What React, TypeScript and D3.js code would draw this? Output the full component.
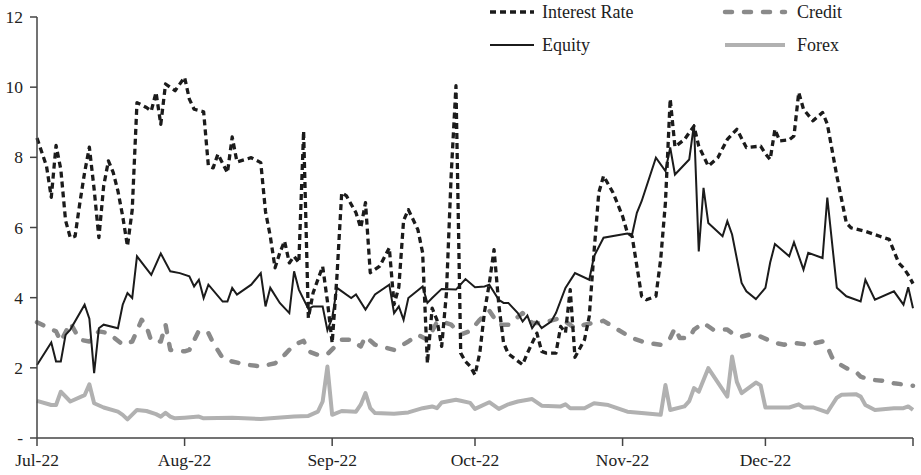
import * as d3 from "d3";

// Daily series (date, value)
const interestRate: [string, number][] = [
  ["2022-07-01", 8.55], ["2022-07-03", 7.75], ["2022-07-04", 6.86], ["2022-07-05", 8.34],
  ["2022-07-06", 7.66], ["2022-07-07", 6.2], ["2022-07-08", 5.71], ["2022-07-09", 5.75],
  ["2022-07-10", 6.7], ["2022-07-11", 7.57], ["2022-07-12", 8.29], ["2022-07-13", 7.09],
  ["2022-07-14", 5.71], ["2022-07-15", 7.18], ["2022-07-16", 7.9], ["2022-07-17", 7.57],
  ["2022-07-18", 7.04], ["2022-07-19", 6.32], ["2022-07-20", 5.47], ["2022-07-21", 6.5],
  ["2022-07-22", 9.56], ["2022-07-24", 9.42], ["2022-07-25", 9.32], ["2022-07-26", 9.85],
  ["2022-07-27", 8.94], ["2022-07-28", 10.09], ["2022-07-30", 9.9], ["2022-08-01", 10.28],
  ["2022-08-02", 9.66], ["2022-08-03", 9.37], ["2022-08-05", 9.3], ["2022-08-06", 7.75],
  ["2022-08-07", 7.7], ["2022-08-08", 8.09], ["2022-08-10", 7.56], ["2022-08-11", 8.58],
  ["2022-08-12", 7.87], ["2022-08-15", 7.99], ["2022-08-17", 7.85], ["2022-08-18", 6.45],
  ["2022-08-19", 5.75], ["2022-08-20", 4.85], ["2022-08-21", 5.28], ["2022-08-22", 5.61],
  ["2022-08-23", 4.99], ["2022-08-24", 5.18], ["2022-08-25", 5.0], ["2022-08-26", 8.75],
  ["2022-08-27", 3.42], ["2022-08-28", 4.14], ["2022-08-30", 4.89], ["2022-08-31", 3.9],
  ["2022-09-01", 2.71], ["2022-09-02", 4.6], ["2022-09-03", 6.99], ["2022-09-04", 6.9],
  ["2022-09-06", 6.42], ["2022-09-07", 5.99], ["2022-09-08", 6.71], ["2022-09-09", 4.71],
  ["2022-09-11", 4.9], ["2022-09-13", 5.42], ["2022-09-14", 3.8], ["2022-09-15", 4.3],
  ["2022-09-16", 6.2], ["2022-09-17", 6.51], ["2022-09-19", 5.94], ["2022-09-20", 5.28],
  ["2022-09-21", 2.13], ["2022-09-22", 3.7], ["2022-09-23", 3.37], ["2022-09-24", 2.61],
  ["2022-09-25", 4.13], ["2022-09-26", 7.5], ["2022-09-27", 10.04], ["2022-09-28", 2.42],
  ["2022-09-29", 2.18], ["2022-09-30", 2.04], ["2022-10-01", 1.8], ["2022-10-02", 2.42],
  ["2022-10-03", 3.6], ["2022-10-04", 4.4], ["2022-10-05", 5.37], ["2022-10-06", 3.8],
  ["2022-10-07", 2.71], ["2022-10-08", 2.4], ["2022-10-11", 2.09], ["2022-10-12", 2.42],
  ["2022-10-14", 2.99], ["2022-10-15", 2.47], ["2022-10-16", 2.42], ["2022-10-18", 2.42],
  ["2022-10-19", 3.18], ["2022-10-20", 3.0], ["2022-10-21", 4.23], ["2022-10-22", 2.3],
  ["2022-10-24", 2.8], ["2022-10-25", 3.47], ["2022-10-26", 5.3], ["2022-10-27", 6.99],
  ["2022-10-28", 7.47], ["2022-10-30", 6.99], ["2022-11-01", 6.32], ["2022-11-02", 5.85],
  ["2022-11-03", 5.75], ["2022-11-04", 4.9], ["2022-11-05", 4.04], ["2022-11-06", 3.94],
  ["2022-11-08", 4.04], ["2022-11-09", 5.09], ["2022-11-10", 6.71], ["2022-11-11", 9.66],
  ["2022-11-12", 8.3], ["2022-11-14", 8.51], ["2022-11-16", 8.89], ["2022-11-17", 8.32],
  ["2022-11-19", 7.75], ["2022-11-21", 7.99], ["2022-11-23", 8.51], ["2022-11-25", 8.8],
  ["2022-11-27", 8.28], ["2022-11-30", 8.32], ["2022-12-01", 8.1], ["2022-12-02", 7.94],
  ["2022-12-03", 8.8], ["2022-12-04", 8.47], ["2022-12-06", 8.5], ["2022-12-07", 8.61],
  ["2022-12-08", 9.85], ["2022-12-09", 9.37], ["2022-12-11", 9.04], ["2022-12-13", 9.28],
  ["2022-12-14", 8.95], ["2022-12-16", 7.47], ["2022-12-17", 6.8], ["2022-12-18", 6.13],
  ["2022-12-19", 5.99], ["2022-12-22", 5.89], ["2022-12-25", 5.75], ["2022-12-27", 5.66],
  ["2022-12-29", 4.99], ["2022-12-30", 4.85], ["2022-12-31", 4.65], ["2023-01-01", 4.4],
];

const equity: [string, number][] = [
  ["2022-07-01", 2.08], ["2022-07-04", 2.72], ["2022-07-05", 2.18], ["2022-07-06", 2.18],
  ["2022-07-07", 2.94], ["2022-07-08", 3.09], ["2022-07-11", 3.8], ["2022-07-12", 3.4],
  ["2022-07-13", 1.85], ["2022-07-14", 3.13], ["2022-07-15", 3.23], ["2022-07-18", 3.13],
  ["2022-07-19", 3.8], ["2022-07-20", 4.13], ["2022-07-21", 3.99], ["2022-07-22", 5.18],
  ["2022-07-25", 4.65], ["2022-07-27", 5.26], ["2022-07-29", 4.75], ["2022-07-31", 4.7],
  ["2022-08-02", 4.61], ["2022-08-03", 4.32], ["2022-08-04", 4.51], ["2022-08-05", 3.99],
  ["2022-08-06", 4.37], ["2022-08-09", 3.89], ["2022-08-10", 3.89], ["2022-08-11", 4.28],
  ["2022-08-12", 4.09], ["2022-08-15", 4.37], ["2022-08-17", 4.7], ["2022-08-18", 3.75],
  ["2022-08-19", 4.28], ["2022-08-21", 3.85], ["2022-08-23", 3.56], ["2022-08-24", 4.75],
  ["2022-08-25", 4.23], ["2022-08-27", 3.68], ["2022-08-28", 3.75], ["2022-08-30", 3.75],
  ["2022-08-31", 3.07], ["2022-09-01", 3.42], ["2022-09-02", 4.28], ["2022-09-05", 3.99],
  ["2022-09-06", 4.09], ["2022-09-08", 3.66], ["2022-09-10", 4.09], ["2022-09-13", 4.37],
  ["2022-09-14", 3.56], ["2022-09-15", 3.75], ["2022-09-16", 3.37], ["2022-09-17", 3.99],
  ["2022-09-20", 4.32], ["2022-09-21", 3.85], ["2022-09-22", 3.99], ["2022-09-24", 4.25],
  ["2022-09-27", 4.23], ["2022-09-29", 4.53], ["2022-10-01", 4.3], ["2022-10-03", 4.32],
  ["2022-10-04", 4.37], ["2022-10-06", 3.94], ["2022-10-07", 3.85], ["2022-10-08", 3.85],
  ["2022-10-10", 3.56], ["2022-10-11", 3.32], ["2022-10-12", 3.49], ["2022-10-13", 3.13],
  ["2022-10-14", 3.32], ["2022-10-15", 3.13], ["2022-10-17", 3.32], ["2022-10-18", 3.56],
  ["2022-10-20", 4.28], ["2022-10-22", 4.7], ["2022-10-25", 4.51], ["2022-10-26", 5.18],
  ["2022-10-28", 5.71], ["2022-11-02", 5.83], ["2022-11-03", 5.8], ["2022-11-04", 6.42],
  ["2022-11-05", 6.75], ["2022-11-08", 7.99], ["2022-11-10", 7.61], ["2022-11-11", 8.28],
  ["2022-11-12", 7.51], ["2022-11-15", 7.94], ["2022-11-16", 8.94], ["2022-11-17", 5.32],
  ["2022-11-18", 7.13], ["2022-11-19", 6.13], ["2022-11-22", 5.75], ["2022-11-23", 6.18],
  ["2022-11-24", 5.8], ["2022-11-26", 4.42], ["2022-11-27", 4.18], ["2022-11-29", 3.96],
  ["2022-12-01", 4.28], ["2022-12-02", 5.0], ["2022-12-03", 5.53], ["2022-12-06", 5.18],
  ["2022-12-07", 5.58], ["2022-12-09", 4.8], ["2022-12-10", 5.28], ["2022-12-13", 5.13],
  ["2022-12-14", 6.85], ["2022-12-16", 4.28], ["2022-12-18", 4.04], ["2022-12-21", 3.89],
  ["2022-12-22", 4.51], ["2022-12-24", 3.94], ["2022-12-28", 4.18], ["2022-12-30", 3.8],
  ["2022-12-31", 4.3], ["2023-01-01", 3.7],
];

const credit: [string, number][] = [
  ["2022-07-01", 3.3], ["2022-07-04", 3.1], ["2022-07-05", 3.04], ["2022-07-06", 2.75],
  ["2022-07-08", 3.28], ["2022-07-10", 2.8], ["2022-07-12", 2.75], ["2022-07-14", 3.04],
  ["2022-07-16", 2.99], ["2022-07-19", 2.66], ["2022-07-21", 2.75], ["2022-07-23", 3.37],
  ["2022-07-24", 3.18], ["2022-07-25", 2.77], ["2022-07-27", 2.75], ["2022-07-28", 3.23],
  ["2022-07-29", 2.51], ["2022-08-01", 2.47], ["2022-08-02", 2.51], ["2022-08-04", 3.06],
  ["2022-08-06", 2.99], ["2022-08-07", 2.71], ["2022-08-09", 2.28], ["2022-08-11", 2.18],
  ["2022-08-14", 2.09], ["2022-08-17", 2.04], ["2022-08-20", 2.13], ["2022-08-22", 2.37],
  ["2022-08-24", 2.66], ["2022-08-26", 2.77], ["2022-08-27", 2.47], ["2022-08-29", 2.37],
  ["2022-08-31", 2.39], ["2022-09-03", 2.8], ["2022-09-05", 2.8], ["2022-09-07", 2.61],
  ["2022-09-08", 2.89], ["2022-09-10", 2.66], ["2022-09-14", 2.51], ["2022-09-17", 2.75],
  ["2022-09-19", 2.94], ["2022-09-21", 2.8], ["2022-09-23", 3.3], ["2022-09-24", 3.32],
  ["2022-09-26", 3.23], ["2022-09-28", 2.95], ["2022-09-30", 3.05], ["2022-10-02", 3.37],
  ["2022-10-04", 3.63], ["2022-10-06", 3.23], ["2022-10-08", 3.23], ["2022-10-11", 3.56],
  ["2022-10-13", 3.28], ["2022-10-15", 3.28], ["2022-10-19", 3.42], ["2022-10-20", 3.32],
  ["2022-10-22", 3.13], ["2022-10-24", 3.23], ["2022-10-28", 3.34], ["2022-10-31", 3.09],
  ["2022-11-03", 2.85], ["2022-11-06", 2.71], ["2022-11-09", 2.66], ["2022-11-11", 2.85],
  ["2022-11-12", 3.13], ["2022-11-13", 2.85], ["2022-11-15", 2.85], ["2022-11-16", 3.09],
  ["2022-11-18", 3.28], ["2022-11-20", 3.09], ["2022-11-23", 3.09], ["2022-11-24", 2.99],
  ["2022-11-26", 2.89], ["2022-11-28", 2.96], ["2022-11-30", 2.89], ["2022-12-03", 2.71],
  ["2022-12-05", 2.66], ["2022-12-07", 2.71], ["2022-12-10", 2.66], ["2022-12-13", 2.75],
  ["2022-12-14", 2.61], ["2022-12-15", 2.3], ["2022-12-16", 2.15], ["2022-12-18", 1.99],
  ["2022-12-20", 1.89], ["2022-12-21", 1.75], ["2022-12-23", 1.66], ["2022-12-26", 1.63],
  ["2022-12-28", 1.56], ["2023-01-01", 1.49],
];

const forex: [string, number][] = [
  ["2022-07-01", 1.06], ["2022-07-04", 0.94], ["2022-07-05", 0.94], ["2022-07-06", 1.32],
  ["2022-07-08", 1.04], ["2022-07-11", 1.22], ["2022-07-12", 1.53], ["2022-07-13", 0.99],
  ["2022-07-15", 0.87], ["2022-07-18", 0.75], ["2022-07-19", 0.66], ["2022-07-20", 0.53],
  ["2022-07-22", 0.8], ["2022-07-24", 0.77], ["2022-07-26", 0.68], ["2022-07-27", 0.61],
  ["2022-07-28", 0.72], ["2022-07-29", 0.61], ["2022-07-30", 0.56], ["2022-08-01", 0.58],
  ["2022-08-04", 0.61], ["2022-08-05", 0.56], ["2022-08-11", 0.58], ["2022-08-17", 0.54],
  ["2022-08-24", 0.61], ["2022-08-27", 0.63], ["2022-08-29", 0.75], ["2022-08-30", 1.04],
  ["2022-08-31", 2.04], ["2022-09-01", 0.66], ["2022-09-03", 0.77], ["2022-09-06", 0.75],
  ["2022-09-07", 0.95], ["2022-09-08", 1.28], ["2022-09-09", 0.85], ["2022-09-10", 0.71],
  ["2022-09-14", 0.69], ["2022-09-17", 0.73], ["2022-09-20", 0.85], ["2022-09-22", 0.9],
  ["2022-09-23", 0.85], ["2022-09-24", 1.01], ["2022-09-27", 1.09], ["2022-09-28", 1.06],
  ["2022-09-30", 1.0], ["2022-10-01", 0.83], ["2022-10-04", 1.02], ["2022-10-06", 0.83],
  ["2022-10-08", 0.96], ["2022-10-10", 1.04], ["2022-10-13", 1.11], ["2022-10-15", 0.92],
  ["2022-10-19", 0.9], ["2022-10-20", 0.96], ["2022-10-21", 0.85], ["2022-10-24", 0.85],
  ["2022-10-26", 0.99], ["2022-10-29", 0.94], ["2022-11-02", 0.75], ["2022-11-05", 0.71],
  ["2022-11-09", 0.66], ["2022-11-10", 1.51], ["2022-11-11", 0.8], ["2022-11-14", 0.9],
  ["2022-11-15", 1.05], ["2022-11-16", 1.42], ["2022-11-17", 1.32], ["2022-11-19", 1.99],
  ["2022-11-23", 1.18], ["2022-11-24", 2.32], ["2022-11-25", 1.6], ["2022-11-26", 1.28],
  ["2022-11-29", 1.58], ["2022-11-30", 1.5], ["2022-12-01", 0.87], ["2022-12-06", 0.87],
  ["2022-12-08", 0.96], ["2022-12-09", 0.87], ["2022-12-11", 0.87], ["2022-12-14", 0.73],
  ["2022-12-15", 0.94], ["2022-12-16", 1.15], ["2022-12-17", 1.23], ["2022-12-20", 1.25],
  ["2022-12-21", 1.18], ["2022-12-22", 0.94], ["2022-12-24", 0.8], ["2022-12-28", 0.85],
  ["2022-12-30", 0.85], ["2022-12-31", 0.9], ["2023-01-01", 0.8],
];

const yTicks = [0, 2, 4, 6, 8, 10, 12];
const monthTicks = ["2022-07-01", "2022-08-01", "2022-09-01", "2022-10-01", "2022-11-01", "2022-12-01", "2023-01-01"];

const W = 921;
const H = 475;
const FONT = "'Liberation Serif', 'Times New Roman', serif";

const parse = d3.timeParse("%Y-%m-%d");
const fmtMonth = d3.timeFormat("%b-%y");

export default function App() {
  const x = d3
    .scaleTime()
    .domain([parse("2022-07-01")!, parse("2023-01-01")!])
    .range([37, 913]);
  const y = d3.scaleLinear().domain([0, 12]).range([438, 17]);

  const line = d3
    .line<[string, number]>()
    .x((d) => x(parse(d[0])!))
    .y((d) => y(d[1]));

  const series = [
    { name: "Forex", data: forex, stroke: "#b1b1b1", width: 4, dash: undefined, cap: "butt", join: "round" },
    { name: "Credit", data: credit, stroke: "#8a8a8a", width: 4.5, dash: "7,12", cap: "round", join: "round" },
    { name: "Equity", data: equity, stroke: "#1b1b1b", width: 2, dash: undefined, cap: "butt", join: "miter" },
    { name: "Interest Rate", data: interestRate, stroke: "#1b1b1b", width: 3.3, dash: "6,4", cap: "butt", join: "round" },
  ];

  const legend = [
    { name: "Interest Rate", lx: 490, ly: 12, s: series[3] },
    { name: "Credit", lx: 725, ly: 12, s: series[1] },
    { name: "Equity", lx: 490, ly: 45, s: series[2] },
    { name: "Forex", lx: 725, ly: 45, s: series[0] },
  ];

  return (
    <svg
      width={W}
      height={H}
      style={{ position: "absolute", left: 0, top: 0, background: "#fff" }}
      fontFamily={FONT}
    >
      {/* lines */}
      {series.map((s) => (
        <path
          key={s.name}
          d={line(s.data) ?? undefined}
          fill="none"
          stroke={s.stroke}
          strokeWidth={s.width}
          strokeDasharray={s.dash}
          strokeLinecap={s.cap as any}
          strokeLinejoin={s.join as any}
        />
      ))}

      {/* y axis */}
      <line x1={37} x2={37} y1={y(12)} y2={y(0)} stroke="#444" strokeWidth={1.5} />
      {yTicks.map((t) => (
        <g key={t}>
          <line x1={30} x2={37} y1={y(t)} y2={y(t)} stroke="#444" strokeWidth={1.5} />
          <text x={23} y={y(t)} dy="0.35em" textAnchor="end" fontSize={17.5} fill="#222">
            {t === 0 ? "-" : t}
          </text>
        </g>
      ))}

      {/* x axis */}
      <line x1={37} x2={913} y1={y(0)} y2={y(0)} stroke="#444" strokeWidth={1.5} />
      {monthTicks.map((m, i) => {
        const px = x(parse(m)!);
        return (
          <g key={m}>
            <line x1={px} x2={px} y1={y(0)} y2={y(0) + 8} stroke="#444" strokeWidth={1.5} />
            {i < monthTicks.length - 1 && (
              <text x={px} y={466} textAnchor="middle" fontSize={17.5} fill="#222">
                {fmtMonth(parse(m)!)}
              </text>
            )}
          </g>
        );
      })}

      {/* legend */}
      {legend.map((l) => (
        <g key={l.name}>
          <line
            x1={l.lx}
            x2={l.lx + (l.s.name === "Interest Rate" || l.s.name === "Equity" ? 44 : 60)}
            y1={l.ly}
            y2={l.ly}
            stroke={l.s.stroke}
            strokeWidth={l.s.width}
            strokeDasharray={l.s.dash}
            strokeLinecap={l.s.cap as any}
          />
          <text
            x={l.lx + (l.s.name === "Interest Rate" || l.s.name === "Equity" ? 52 : 72)}
            y={l.ly}
            dy="0.35em"
            fontSize={18}
            fill="#222"
          >
            {l.name}
          </text>
        </g>
      ))}
    </svg>
  );
}
